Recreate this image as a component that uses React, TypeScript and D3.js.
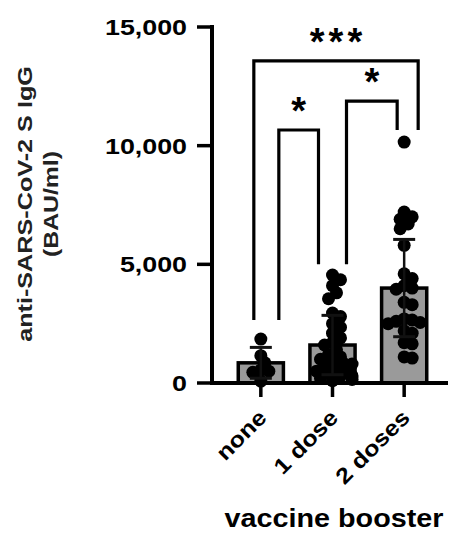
import React from "react";
import * as d3 from "d3";

const categories = ["none", "1 dose", "2 doses"];
const means = [850, 1600, 4000];
const sds = [650, 1250, 2050];
const noneValues = [1850, 1150, 850, 550, 500, 450, 80];
const oneDoseValues = [4550, 4350, 4100, 3800, 3550, 2950, 2800, 2500, 2350, 2100, 1900, 1700, 1600, 1400, 1200, 1100, 1000, 900, 800, 800, 700, 600, 500, 500, 400, 300, 300, 200, 150, 100];
const twoDoseValues = [10150, 7200, 7000, 6900, 6700, 6500, 5800, 4600, 4400, 4100, 4000, 3950, 3400, 3300, 2700, 2650, 2600, 2550, 2500, 2200, 2100, 1700, 1650, 1100, 1050];
const yTicks = [0, 5000, 10000, 15000];
const comparisons = [
  { from: "none", to: "2 doses", label: "***", top: 13570, leftLeg: 2650, rightLeg: 10660 },
  { from: "none", to: "1 dose", label: "*", top: 10660, leftLeg: 2650, rightLeg: 5000 },
  { from: "1 dose", to: "2 doses", label: "*", top: 11880, leftLeg: 5000, rightLeg: 10660 },
];

const W = 452;
const H = 533;
const FONT = "'Liberation Sans', Arial, Helvetica, sans-serif";

function swarm(values: number[], y: (v: number) => number, step: number, minDist: number, maxOff: number) {
  const placed: { x: number; y: number; v: number }[] = [];
  const sorted = [...values].sort((a, b) => b - a);
  for (const v of sorted) {
    const py = y(v);
    let chosen = 0;
    for (let k = 0; k < 40; k++) {
      const off = k === 0 ? 0 : (k % 2 === 1 ? 1 : -1) * Math.ceil(k / 2) * step;
      if (Math.abs(off) > maxOff) { chosen = off > 0 ? maxOff : -maxOff; break; }
      const ok = placed.every((p) => Math.hypot(p.x - off, p.y - py) >= minDist);
      if (ok) { chosen = off; break; }
    }
    placed.push({ x: chosen, y: py, v });
  }
  return placed;
}

export default function App() {
  const y = d3.scaleLinear().domain([0, 15000]).range([383, 27]);
  const x = d3.scaleBand<string>().domain(categories).range([225, 440]).paddingInner(0.37).paddingOuter(0.185);
  const cx = (c: string) => (x(c) as number) + x.bandwidth() / 2;
  const bw = x.bandwidth();
  const groups = [noneValues, oneDoseValues, twoDoseValues];
  const axisX = 212;
  const legOffset: Record<string, [number, number]> = {
    "none|2 doses": [-7, 14],
    "none|1 dose": [18, -14],
    "1 dose|2 doses": [14, -7],
  };

  return (
    <svg width={W} height={H} style={{ position: "absolute", left: 0, top: 0, background: "#fff" }}>
      {/* bars */}
      {categories.map((c, i) => (
        <rect key={c} x={x(c)} y={y(means[i])} width={bw} height={y(0) - y(means[i])}
          fill="#9a9a9a" stroke="#000" strokeWidth={3.5} />
      ))}
      {/* points */}
      {categories.map((c, i) =>
        swarm(groups[i], y, 4, 7.5, bw / 2 - 3).map((p, j) => (
          <circle key={c + j} cx={cx(c) + p.x} cy={p.y} r={6.5} fill="#000" />
        ))
      )}
      {/* error bars */}
      {categories.map((c, i) => {
        const hi = y(means[i] + sds[i]);
        const lo = y(Math.max(0, means[i] - sds[i]));
        const m = cx(c);
        return (
          <g key={c} stroke="#111" strokeWidth={2.5}>
            <line x1={m} x2={m} y1={hi} y2={lo} />
            <line x1={m - 11} x2={m + 11} y1={hi} y2={hi} strokeWidth={3} />
            <line x1={m - 11} x2={m + 11} y1={lo} y2={lo} strokeWidth={3} />
          </g>
        );
      })}
      {/* axes */}
      <line x1={axisX} x2={axisX} y1={y(15000) - 2} y2={y(0) + 2} stroke="#000" strokeWidth={4} />
      <line x1={axisX - 2} x2={448} y1={y(0)} y2={y(0)} stroke="#000" strokeWidth={4} />
      {yTicks.map((t) => (
        <g key={t}>
          <line x1={axisX - 15} x2={axisX} y1={y(t)} y2={y(t)} stroke="#000" strokeWidth={3.5} />
          <text transform={`translate(187,${y(t) + 8}) scale(1.22,1)`} textAnchor="end"
            fontFamily={FONT} fontWeight="bold" fontSize={22} fill="#000">
            {d3.format(",")(t)}
          </text>
        </g>
      ))}
      {categories.map((c) => (
        <g key={c}>
          <line x1={cx(c)} x2={cx(c)} y1={y(0)} y2={y(0) + 14} stroke="#000" strokeWidth={3.5} />
          <text transform={`translate(${cx(c) + 7},419) rotate(-45) scale(1.15,1)`} textAnchor="end"
            fontFamily={FONT} fontWeight="bold" fontSize={22} fill="#000">
            {c}
          </text>
        </g>
      ))}
      {/* axis titles */}
      <text transform={`translate(32,204) rotate(-90) scale(1.2,1)`} textAnchor="middle"
        fontFamily={FONT} fontWeight="bold" fontSize={21} fill="#222">
        anti-SARS-CoV-2 S IgG
      </text>
      <text transform={`translate(58,204) rotate(-90) scale(1.18,1)`} textAnchor="middle"
        fontFamily={FONT} fontWeight="bold" fontSize={21} fill="#222">
        (BAU/ml)
      </text>
      <text transform={`translate(334,527) scale(1.15,1)`} textAnchor="middle"
        fontFamily={FONT} fontWeight="bold" fontSize={25} fill="#000">
        vaccine booster
      </text>
      {/* significance brackets */}
      {comparisons.map((cmp) => {
        const key = cmp.from + "|" + cmp.to;
        const [lo, ro] = legOffset[key];
        const x1 = cx(cmp.from) + lo;
        const x2 = cx(cmp.to) + ro;
        const yt = y(cmp.top);
        return (
          <g key={key}>
            <path d={`M${x1},${y(cmp.leftLeg)}V${yt}H${x2}V${y(cmp.rightLeg)}`} fill="none" stroke="#000" strokeWidth={3.2} />
            <text x={(x1 + x2) / 2 + (cmp.label.length > 1 ? 2 : 0)} y={yt - 6} textAnchor="middle"
              fontFamily={FONT} fontWeight="bold" fontSize={38} letterSpacing={cmp.label.length > 1 ? 4 : 0} fill="#000">
              {cmp.label}
            </text>
          </g>
        );
      })}
    </svg>
  );
}
